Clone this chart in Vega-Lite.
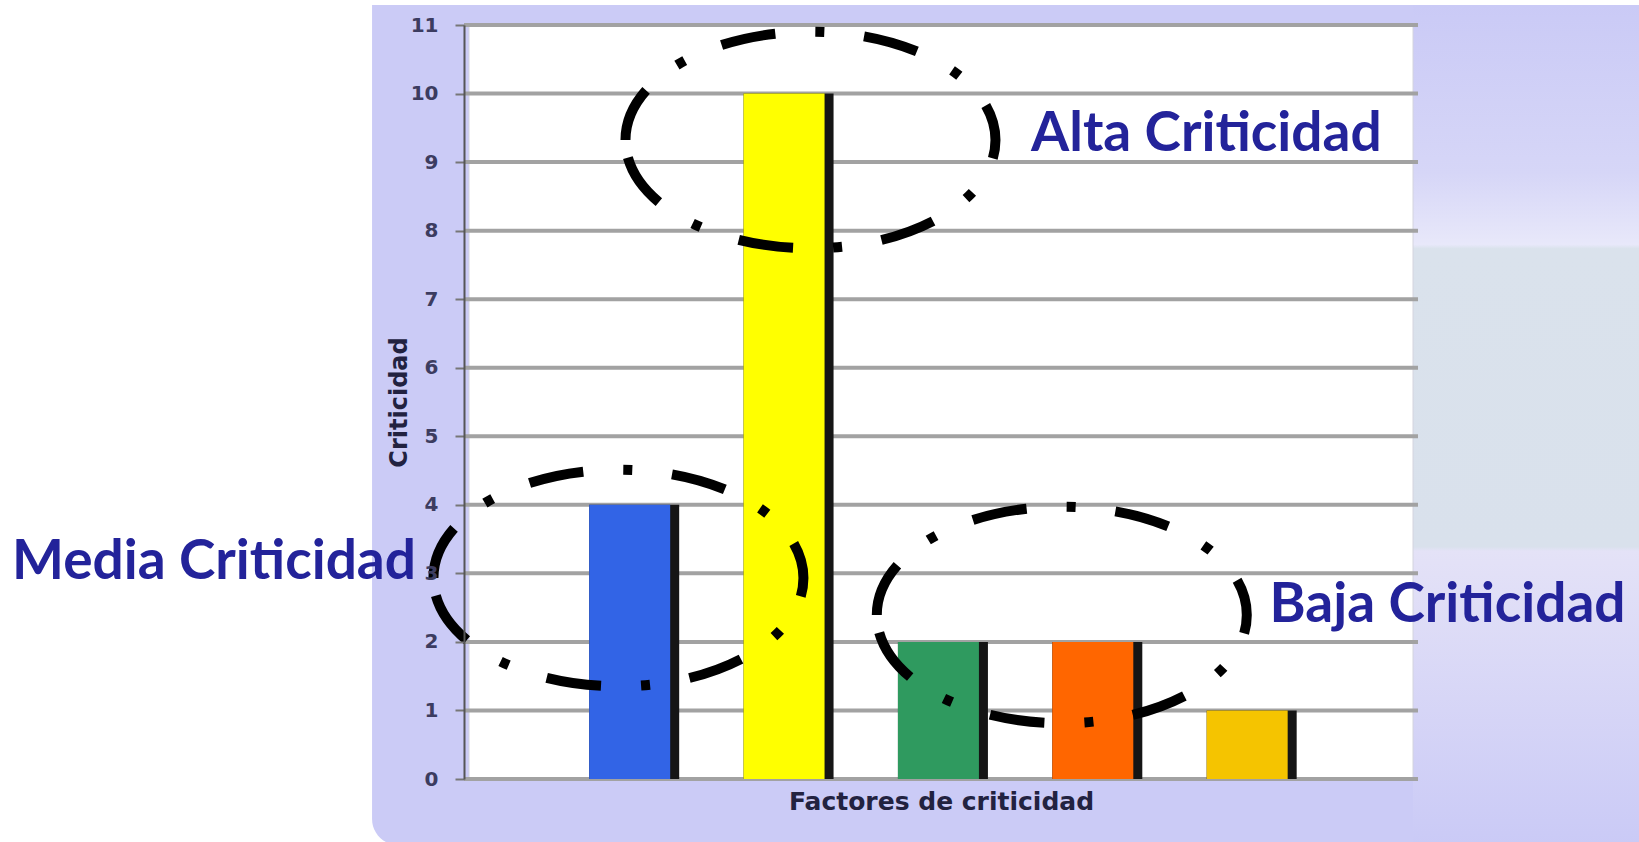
{
  "$schema": "https://vega.github.io/schema/vega-lite/v6.json",
  "autosize": {"type": "none"},
  "padding": {"left": 464, "top": 25, "right": 221, "bottom": 63},
  "width": 954,
  "height": 754,
  "background": "white",
  "config": {
    "view": {"stroke": null},
    "axisY": {
      "grid": false, "domainColor": "#555555", "domainWidth": 2,
      "tickColor": "#777777", "tickSize": 9, "tickWidth": 2,
      "labelFont": "DejaVu Sans", "labelFontSize": 20, "labelFontWeight": "bold",
      "labelColor": "#3c3c60", "labelPadding": 17,
      "titleFont": "DejaVu Sans", "titleFontSize": 24, "titleFontWeight": "bold",
      "titleColor": "#222240", "titlePadding": -1
    },
    "axisX": {
      "grid": false, "domain": false, "ticks": false, "labels": false,
      "titleFont": "DejaVu Sans", "titleFontSize": 25, "titleFontWeight": "bold",
      "titleColor": "#222240", "titlePadding": 10
    }
  },
  "datasets": {
    "factores": [
      {"factor": "Factor 1", "pos": 1, "criticidad": 4},
      {"factor": "Factor 2", "pos": 2, "criticidad": 10},
      {"factor": "Factor 3", "pos": 3, "criticidad": 2},
      {"factor": "Factor 4", "pos": 4, "criticidad": 2},
      {"factor": "Factor 5", "pos": 5, "criticidad": 1}
    ],
    "grilla": [
      {"v": 0}, {"v": 1}, {"v": 2}, {"v": 3}, {"v": 4}, {"v": 5},
      {"v": 6}, {"v": 7}, {"v": 8}, {"v": 9}, {"v": 10}, {"v": 11}
    ],
    "grupos": [
      {"grupo": "Alta Criticidad", "cx": 2.142, "cy": 9.322, "tx": 3.571, "ty": 9.162},
      {"grupo": "Media Criticidad", "cx": 0.898, "cy": 2.932, "tx": -3.03, "ty": 2.918},
      {"grupo": "Baja Criticidad", "cx": 3.77, "cy": 2.393, "tx": 5.116, "ty": 2.29}
    ]
  },
  "layer": [
    {
      "data": {"values": [{}]},
      "mark": {"type": "rect", "fill": "#CBCBF6", "cornerRadiusBottomLeft": 26},
      "encoding": {
        "x": {"datum": -0.698, "type": "quantitative", "scale": {"domain": [-0.07, 6.045], "nice": false, "zero": false}, "title": "Factores de criticidad"},
        "x2": {"datum": 7.6},
        "y": {"datum": 11.29, "type": "quantitative", "scale": {"domain": [0, 11], "nice": false}, "title": "Criticidad"},
        "y2": {"datum": -0.963}
      }
    },
    {
      "data": {"values": [{}]},
      "mark": {"type": "rect", "fill": {
        "gradient": "linear", "x1": 0, "y1": 0, "x2": 0, "y2": 1,
        "stops": [
          {"offset": 0, "color": "#CACAF6"},
          {"offset": 0.2, "color": "#D6D6F7"},
          {"offset": 0.285, "color": "#E8E8FA"},
          {"offset": 0.29, "color": "#DAE2EC"},
          {"offset": 0.645, "color": "#D9E1EC"},
          {"offset": 0.65, "color": "#E4E2F7"},
          {"offset": 1, "color": "#CACAF6"}
        ]}},
      "encoding": {
        "x": {"datum": 6.045, "type": "quantitative", "scale": {"domain": [-0.07, 6.045], "nice": false, "zero": false}, "title": "Factores de criticidad"},
        "x2": {"datum": 7.6},
        "y": {"datum": 11.29, "type": "quantitative", "scale": {"domain": [0, 11], "nice": false}, "title": "Criticidad"},
        "y2": {"datum": -0.963}
      }
    },
    {
      "data": {"values": [{}]},
      "mark": {"type": "rect", "fill": "white", "stroke": "#d4d4de", "strokeWidth": 1},
      "encoding": {
        "x": {"datum": -0.07, "type": "quantitative", "scale": {"domain": [-0.07, 6.045], "nice": false, "zero": false}, "title": "Factores de criticidad"},
        "x2": {"datum": 6.045},
        "y": {"datum": 11, "type": "quantitative", "scale": {"domain": [0, 11], "nice": false}, "title": "Criticidad"},
        "y2": {"datum": 0}
      }
    },
    {
      "data": {"name": "grilla"},
      "mark": {"type": "rule", "color": "#a2a2a2", "strokeWidth": 4},
      "encoding": {
        "y": {"field": "v", "type": "quantitative", "scale": {"domain": [0, 11], "nice": false}, "title": "Criticidad"}
      }
    },
    {
      "data": {"name": "factores"},
      "mark": {"type": "bar", "orient": "vertical", "width": 90, "color": "#151515"},
      "encoding": {
        "x": {"field": "pos", "type": "quantitative", "scale": {"domain": [-0.07, 6.045], "nice": false, "zero": false}, "title": "Factores de criticidad", "axis": {"zindex": 1}},
        "y": {"field": "criticidad", "type": "quantitative", "stack": null, "scale": {"domain": [0, 11], "nice": false}, "title": "Criticidad", "axis": {"values": [0, 1, 2, 3, 4, 5, 6, 7, 8, 9, 10, 11], "format": "d", "zindex": 1}}
      }
    },
    {
      "data": {"name": "factores"},
      "mark": {"type": "bar", "orient": "vertical", "width": 81, "xOffset": -4.5},
      "encoding": {
        "x": {"field": "pos", "type": "quantitative", "scale": {"domain": [-0.07, 6.045], "nice": false, "zero": false}, "title": "Factores de criticidad"},
        "y": {"field": "criticidad", "type": "quantitative", "stack": null, "scale": {"domain": [0, 11], "nice": false}, "title": "Criticidad"},
        "color": {"field": "factor", "type": "nominal", "legend": null,
          "scale": {"domain": ["Factor 1", "Factor 2", "Factor 3", "Factor 4", "Factor 5"],
                    "range": ["#3264e6", "#ffff00", "#2f9a5f", "#ff6600", "#f5c400"]}}
      }
    },
    {
      "data": {"name": "grupos"},
      "mark": {"type": "point", "filled": false, "opacity": 1,
        "shape": "M -1 0 C -1 -0.323 -0.5523 -0.585 0 -0.585 C 0.5523 -0.585 1 -0.323 1 0 C 1 0.323 0.5523 0.585 0 0.585 C -0.5523 0.585 -1 0.323 -1 0 Z",
        "size": 136900, "stroke": "black", "strokeWidth": 10, "strokeDash": [55, 40, 9, 40]},
      "encoding": {
        "x": {"field": "cx", "type": "quantitative", "scale": {"domain": [-0.07, 6.045], "nice": false, "zero": false}, "title": "Factores de criticidad"},
        "y": {"field": "cy", "type": "quantitative", "scale": {"domain": [0, 11], "nice": false}, "title": "Criticidad"}
      }
    },
    {
      "data": {"name": "grupos"},
      "mark": {"type": "text", "align": "left", "baseline": "alphabetic",
        "font": "Lato", "fontWeight": "bold", "fontSize": 55, "color": "#23239a"},
      "encoding": {
        "x": {"field": "tx", "type": "quantitative", "scale": {"domain": [-0.07, 6.045], "nice": false, "zero": false}, "title": "Factores de criticidad"},
        "y": {"field": "ty", "type": "quantitative", "scale": {"domain": [0, 11], "nice": false}, "title": "Criticidad"},
        "text": {"field": "grupo"}
      }
    }
  ]
}
